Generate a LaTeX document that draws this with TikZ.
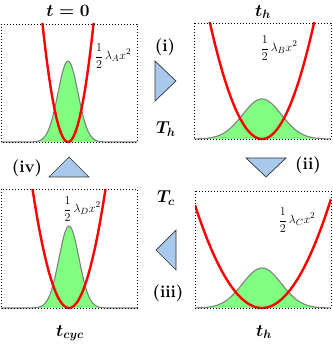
\documentclass[tikz,border=0pt]{standalone}
\usepackage{amsmath}
\begin{document}
\begin{tikzpicture}[x=1pt,y=-1pt,
  frame/.style={line width=0.9pt,dash pattern=on 0.9pt off 2.1pt},
  gauss/.style={fill=gfill,draw=gline,line width=1.1pt},
  parab/.style={draw=red,line width=2.4pt},
  tri/.style={fill=tblue,draw=black!80,line width=0.7pt,line join=miter},
  ttl/.style={font=\fontsize{18.5}{20}\selectfont\boldmath},
  stg/.style={font=\fontsize{17}{19}\selectfont\bfseries},
  lbl/.style={font=\fontsize{12.5}{14}\selectfont}]
\definecolor{gfill}{HTML}{80FF80}
\definecolor{gline}{HTML}{808080}
\definecolor{tblue}{HTML}{A9C9EC}
\useasboundingbox (0,0) rectangle (332,344);

% ---------- panel A (top-left) ----------
\fill[gfill] plot[domain=1:137,samples=90] (\x,{142-81*exp(-((\x-68)/10)^2/2)}) -- (137,142) -- (1,142) -- cycle;
\draw[gline,line width=1.1pt] plot[domain=1:137,samples=90] (\x,{142-81*exp(-((\x-68)/10)^2/2)});
\begin{scope}
\clip (1,24) rectangle (137,146);
\draw[parab] plot[domain=40:96,samples=80] (\x,{142-0.1815*(\x-68)^2});
\end{scope}
\draw[frame] (1,24) rectangle (137,142);
\node[lbl] (la) at (113,56) {$\displaystyle\frac{1}{2}\,\lambda_A x^2$};
\node[ttl] (ta) at (68,11) {$t=0$};

% ---------- panel B (top-right) ----------
\fill[gfill] plot[domain=194:331,samples=90] (\x,{139-40*exp(-((\x-262)/19.5)^2/2)}) -- (331,139) -- (194,139) -- cycle;
\draw[gline,line width=1.1pt] plot[domain=194:331,samples=90] (\x,{139-40*exp(-((\x-262)/19.5)^2/2)});
\begin{scope}
\clip (194,23) rectangle (331,143);
\draw[parab] plot[domain=205:319,samples=80] (\x,{139-0.0429*(\x-262)^2});
\end{scope}
\draw[frame] (194,23) rectangle (331,139);
\node[lbl] (lb) at (279,48) {$\displaystyle\frac{1}{2}\,\lambda_B x^2$};
\node[ttl] (tb) at (263,12) {$t_h$};

% ---------- panel C (bottom-right) ----------
\fill[gfill] plot[domain=195:331,samples=90] (\x,{308-40*exp(-((\x-262)/19.5)^2/2)}) -- (331,308) -- (195,308) -- cycle;
\draw[gline,line width=1.1pt] plot[domain=195:331,samples=90] (\x,{308-40*exp(-((\x-262)/19.5)^2/2)});
\begin{scope}
\clip (195,191) rectangle (331,312);
\draw[parab] plot[domain=195:331,samples=80] (\x,{308-0.0229*(\x-262)^2});
\end{scope}
\draw[frame] (195,191) rectangle (331,308);
\node[lbl] (lc) at (297,220) {$\displaystyle\frac{1}{2}\,\lambda_C x^2$};
\node[ttl] (tc) at (264,332) {$t_h$};

% ---------- panel D (bottom-left) ----------
\fill[gfill] plot[domain=1:137,samples=90] (\x,{308-82*exp(-((\x-69)/10)^2/2)}) -- (137,308) -- (1,308) -- cycle;
\draw[gline,line width=1.1pt] plot[domain=1:137,samples=90] (\x,{308-82*exp(-((\x-69)/10)^2/2)});
\begin{scope}
\clip (1,189) rectangle (137,312);
\draw[parab] plot[domain=30:108,samples=80] (\x,{308-0.0893*(\x-69)^2});
\end{scope}
\draw[frame] (1,189) rectangle (137,308);
\node[lbl] (ld) at (82,209) {$\displaystyle\frac{1}{2}\,\lambda_D x^2$};
\node[ttl] (td) at (70,333) {$t_{cyc}$};

% ---------- middle labels and arrows ----------
\node[stg] (s1) at (165,47) {(i)};
\node[stg] (s2) at (308,165) {(ii)};
\node[stg] (s3) at (168,293) {(iii)};
\node[stg] (s4) at (27,168) {(iv)};
\node[ttl] (Th) at (166,129) {$T_h$};
\node[ttl] (Tc) at (166,198) {$T_c$};

\draw[tri] (155,61) -- (176,81) -- (155,101) -- cycle;
\draw[tri] (246,158) -- (286,158) -- (266,177) -- cycle;
\draw[tri] (176,230) -- (156,250) -- (176,270) -- cycle;
\draw[tri] (49,177) -- (69,157) -- (89,177) -- cycle;
\end{tikzpicture}
\end{document}
